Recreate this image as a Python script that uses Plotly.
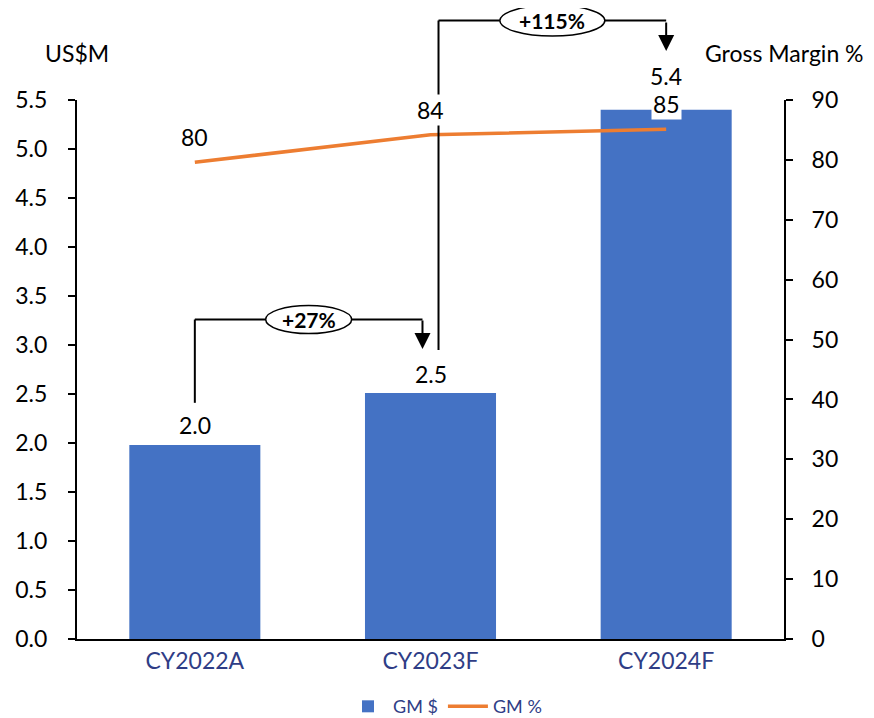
import plotly.graph_objects as go

# data
categories = ["CY2022A", "CY2023F", "CY2024F"]
gm_usd = [1.98, 2.51, 5.40]      # US$M, left axis
gm_pct = [79.6, 84.2, 85.1]      # %, right axis
growth_labels = ["+27%", "+115%"]

BAR_COL = "#4472C4"
LINE_COL = "#ED7D31"
TXT_COL = "#2f3d86"
FONT = "Lato, 'Open Sans', sans-serif"
FS = 23
Y_MAX = 5.5


def xd(p):
    # category position -> x domain fraction (range -0.5..2.5)
    return (p + 0.5) / 3


def yd(v):
    # left-axis value -> y domain fraction
    return v / Y_MAX


fig = go.Figure()
fig.add_trace(go.Bar(
    x=categories, y=gm_usd, name="GM $",
    marker=dict(color=BAR_COL, line=dict(width=0)),
))
fig.add_trace(go.Scatter(
    x=categories, y=gm_pct, name="GM %", yaxis="y2", mode="lines",
    line=dict(color=LINE_COL, width=3.5),
))

ann = []
# bar value labels
bar_shift = [20, 19, 34]
for i, v in enumerate(gm_usd):
    ann.append(dict(x=categories[i], y=v, xref="x", yref="y", text=f"{v:.1f}",
                    showarrow=False, yshift=bar_shift[i],
                    xanchor="center", yanchor="middle",
                    font=dict(size=FS, color="black")))
# line value labels
for i, v in enumerate(gm_pct):
    ann.append(dict(x=categories[i], y=v, xref="x", yref="y2", text=f"{v:.0f}",
                    showarrow=False, yshift=25,
                    xanchor="center", yanchor="middle",
                    bgcolor="white", borderpad=1,
                    font=dict(size=FS, color="black")))

shapes = []
# brackets: (start x, end x, start y, level y, arrow tip y)
brackets = [
    (0.0, 0.966, 2.41, 3.26, 2.96),
    (1.034, 2.0, 2.95, 6.31, 6.00),
]
ell_size = [(0.1216, 0.052), (0.1485, 0.0575)]
for k, (xa, xb, ys, yl, yt) in enumerate(brackets):
    line = dict(color="black", width=2)
    shapes.append(dict(type="line", xref="x domain", yref="y domain",
                       x0=xd(xa), x1=xd(xa), y0=yd(ys), y1=yd(yl), line=line))
    shapes.append(dict(type="line", xref="x domain", yref="y domain",
                       x0=xd(xa), x1=xd(xb), y0=yd(yl), y1=yd(yl), line=line))
    ann.append(dict(x=xd(xb), y=yd(yt), xref="x domain", yref="y domain",
                    text="", showarrow=True, ax=0, ay=-30,
                    arrowhead=2, arrowsize=1.6, arrowwidth=2,
                    arrowcolor="black", standoff=0))
    cx = (xd(xa) + xd(xb)) / 2
    w, h = ell_size[k]
    shapes.append(dict(type="circle", xref="x domain", yref="y domain",
                       x0=cx - w / 2, x1=cx + w / 2,
                       y0=yd(yl) - h / 2, y1=yd(yl) + h / 2,
                       fillcolor="white", line=dict(color="black", width=1.5),
                       layer="above"))
    ann.append(dict(x=cx, y=yd(yl), xref="x domain", yref="y domain",
                    text=f"<b>{growth_labels[k]}</b>", showarrow=False,
                    xanchor="center", yanchor="middle",
                    font=dict(size=21, color="black")))

# axis titles
ann.append(dict(x=0, y=1.088, xref="paper", yref="paper", text="US$M",
                showarrow=False, xanchor="center", yanchor="middle",
                font=dict(size=FS, color="black")))
ann.append(dict(x=1.0, y=1.088, xref="paper", yref="paper", text="Gross Margin %",
                showarrow=False, xanchor="center", yanchor="middle",
                font=dict(size=FS, color="black")))

axis_common = dict(showgrid=False, zeroline=False, showline=True,
                   linecolor="black", linewidth=2, ticks="outside",
                   ticklen=7, tickwidth=2, tickcolor="black",
                   automargin=False,
                   tickfont=dict(size=FS, color="black"))

# page body adds an 8px offset, margins compensate
fig.update_layout(
    width=874, height=718,
    margin=dict(l=69, r=98, t=92, b=87),
    plot_bgcolor="white", paper_bgcolor="white",
    font=dict(family=FONT),
    bargap=0.444,
    showlegend=True,
    legend=dict(orientation="h", xref="container", x=0.5, xanchor="center",
                yref="container", y=0.027, yanchor="middle",
                font=dict(size=18, color=TXT_COL), itemwidth=40),
    xaxis=dict(range=[-0.5, 2.5], showgrid=False, showline=True,
               linecolor="black", linewidth=2, ticks="", automargin=False,
               tickfont=dict(size=FS, color=TXT_COL)),
    yaxis=dict(range=[0, Y_MAX], dtick=0.5, tickformat=".1f",
               ticklabelstandoff=16, **axis_common),
    yaxis2=dict(range=[0, 90], dtick=10, overlaying="y", side="right",
                ticklabelstandoff=14, **axis_common),
    shapes=shapes,
    annotations=ann,
)

fig.write_html("out.html")
